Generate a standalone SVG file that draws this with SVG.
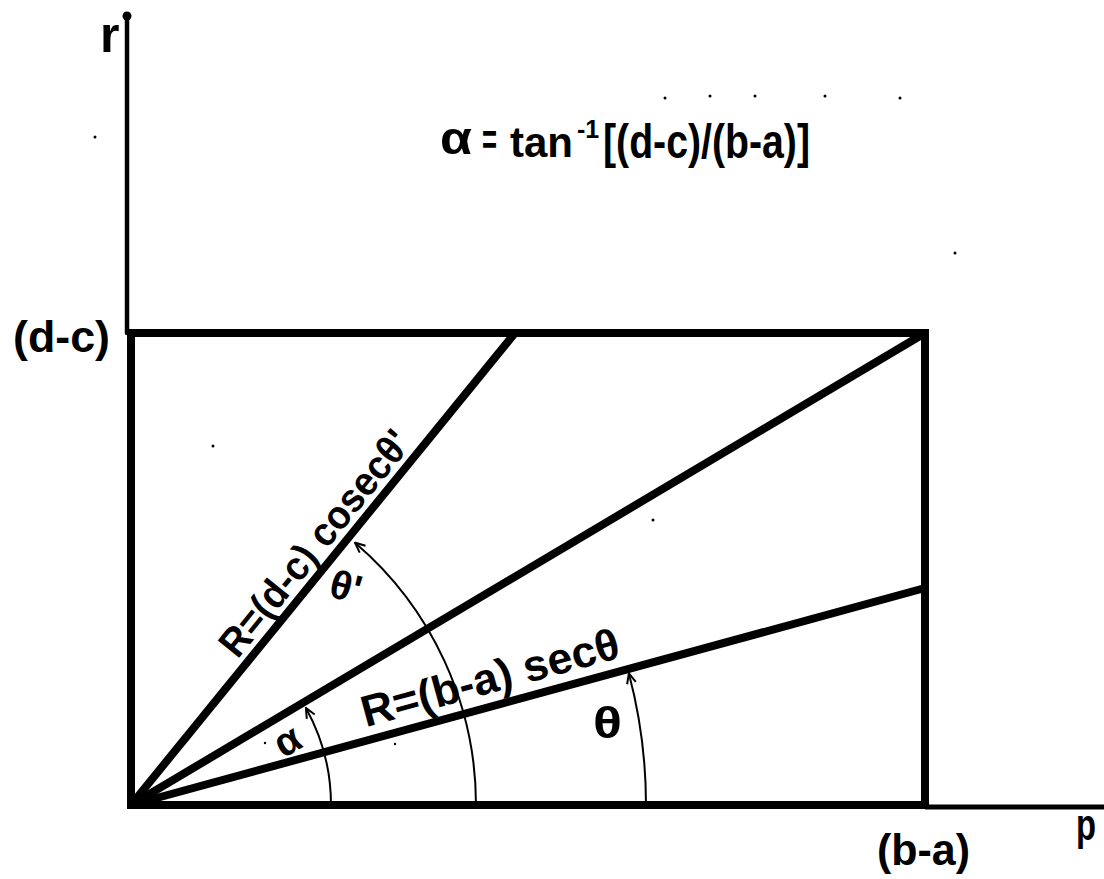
<svg xmlns="http://www.w3.org/2000/svg" width="1104" height="879" viewBox="0 0 1104 879">
<style>
.bg{fill:#ffffff}
.thick{stroke:#000;stroke-width:8;stroke-linecap:square;fill:none}
.thin{stroke:#000;stroke-width:4.5;stroke-linecap:round;fill:none}
.arc{stroke:#000;stroke-width:2;fill:none}
.lbl{font-family:"Liberation Sans",Arial,sans-serif;font-weight:bold;fill:#000}
.speck{fill:#000}
</style>
<defs>
<marker id="ah" viewBox="0 0 12 12" refX="11" refY="6" markerWidth="12" markerHeight="12" markerUnits="userSpaceOnUse" orient="auto">
<path d="M1,1.5 L11,6 L1,10.5" fill="none" stroke="#000" stroke-width="2"/>
</marker>
</defs>
<rect class="bg" x="0" y="0" width="1104" height="879"/>

<g id="axes">
<line class="thin" x1="127" y1="16" x2="127" y2="333"/>
<circle cx="127" cy="16" r="4.5" fill="#000"/>
<line class="thin" x1="925" y1="807" x2="1104" y2="807" style="stroke-width:5;stroke-linecap:butt"/>
<text class="lbl" x="100" y="52" font-size="50">r</text>
<text class="lbl" x="1076" y="840" font-size="44" textLength="20" lengthAdjust="spacingAndGlyphs">p</text>
</g>

<g id="rectangle">
<line class="thick" x1="131" y1="333" x2="131" y2="805"/>
<line class="thick" x1="131" y1="333" x2="925" y2="333"/>
<line class="thick" x1="925" y1="333" x2="925" y2="805"/>
<line class="thick" x1="131" y1="805" x2="925" y2="805"/>
<text class="lbl" x="13" y="352" font-size="44" textLength="97" lengthAdjust="spacingAndGlyphs">(d-c)</text>
<text class="lbl" x="877" y="865" font-size="44" textLength="93" lengthAdjust="spacingAndGlyphs">(b-a)</text>
</g>

<g id="connectors">
<line class="thick" x1="131" y1="805" x2="515" y2="333" style="stroke-linecap:butt"/>
<line class="thick" x1="131" y1="805" x2="925" y2="333" style="stroke-linecap:butt"/>
<line class="thick" x1="131" y1="805" x2="925" y2="588" style="stroke-linecap:butt"/>
<path class="arc" d="M331,805 A200,200 0 0 0 305.9,708" marker-end="url(#ah)"/>
<path class="arc" d="M476,805 A345,345 0 0 0 355,542.7" marker-end="url(#ah)"/>
<path class="arc" d="M646,805 A515,515 0 0 0 628.9,673.4" marker-end="url(#ah)"/>
</g>

<g id="formula">
<text class="lbl" x="440" y="154" font-size="46" textLength="32" lengthAdjust="spacingAndGlyphs">α</text>
<text class="lbl" x="482" y="155" font-size="44" textLength="15" lengthAdjust="spacingAndGlyphs">=</text>
<text class="lbl" x="510" y="157" font-size="42">tan</text>
<text class="lbl" x="577" y="138" font-size="25">-1</text>
<text class="lbl" x="603" y="158" font-size="48" textLength="207" lengthAdjust="spacingAndGlyphs">[(d-c)/(b-a)]</text>
</g>

<g id="label-cosec" transform="translate(131,805) rotate(-50.9)">
<text class="lbl" x="180" y="-9" font-size="40" textLength="278" lengthAdjust="spacingAndGlyphs">R=(d-c) cosecθ'</text>
</g>

<g id="label-sec" transform="translate(131,805) rotate(-15.3)">
<text class="lbl" x="247" y="-13" font-size="44" textLength="266" lengthAdjust="spacingAndGlyphs">R=(b-a) secθ</text>
</g>

<g id="angle-labels">
<text class="lbl" x="288" y="754" font-size="40" text-anchor="middle" transform="rotate(-30 288 742)">α</text>
<text class="lbl" x="593" y="738" font-size="44" textLength="29" lengthAdjust="spacingAndGlyphs">θ</text>
<text class="lbl" x="332" y="600" font-size="40" transform="rotate(15 345 580)">θ'</text>
</g>

<g id="specks">
<circle class="speck" cx="95" cy="137" r="1.5"/>
<circle class="speck" cx="665" cy="98" r="1.5"/>
<circle class="speck" cx="710" cy="96" r="1.5"/>
<circle class="speck" cx="755" cy="96" r="1.5"/>
<circle class="speck" cx="825" cy="96" r="1.5"/>
<circle class="speck" cx="900" cy="98" r="1.5"/>
<circle class="speck" cx="955" cy="253" r="1.5"/>
<circle class="speck" cx="213" cy="446" r="1.5"/>
<circle class="speck" cx="653" cy="520" r="1.5"/>
<circle class="speck" cx="265" cy="743" r="1.2"/>
<circle class="speck" cx="395" cy="744" r="1.2"/>
</g>
</svg>
